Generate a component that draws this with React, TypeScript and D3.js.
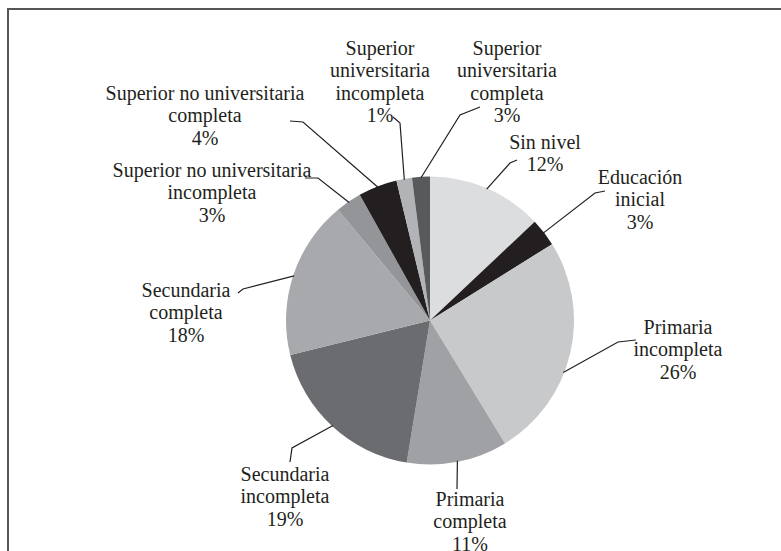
import React from "react";
import * as d3 from "d3";

const categories = [
  "Sin nivel",
  "Educación inicial",
  "Primaria incompleta",
  "Primaria completa",
  "Secundaria incompleta",
  "Secundaria completa",
  "Superior no universitaria incompleta",
  "Superior no universitaria completa",
  "Superior universitaria incompleta",
  "Superior universitaria completa",
];
const shares = [12.97, 3.14, 25.17, 11.31, 18.56, 17.83, 2.92, 4.36, 1.75, 2.0];
const pctLabels = ["12%", "3%", "26%", "11%", "19%", "18%", "3%", "4%", "1%", "3%"];
const colors = [
  "#dcdddf",
  "#231f20",
  "#c8c9cb",
  "#a0a1a4",
  "#6b6c70",
  "#a8a9ac",
  "#939598",
  "#231f20",
  "#b1b3b6",
  "#58595b",
];
const labelLines = [
  ["Sin nivel"],
  ["Educación", "inicial"],
  ["Primaria", "incompleta"],
  ["Primaria", "completa"],
  ["Secundaria", "incompleta"],
  ["Secundaria", "completa"],
  ["Superior no universitaria", "incompleta"],
  ["Superior no universitaria", "completa"],
  ["Superior", "universitaria", "incompleta"],
  ["Superior", "universitaria", "completa"],
];

// layout: label centre x, first-line centre y, leader elbow points, angle offset (deg)
const layout = [
  { x: 545, y: 142, pts: [[510, 163], [517, 160]], off: 0 },
  { x: 640, y: 177, pts: [[595, 193], [605, 191]], off: 0 },
  { x: 678, y: 327, pts: [[618, 342], [636, 340]], off: 8 },
  { x: 470, y: 499, pts: [[457, 489]], off: 0 },
  { x: 285, y: 474, pts: [[292, 448], [290, 462]], off: 0 },
  { x: 186, y: 290, pts: [[243, 289], [238, 293]], off: 0 },
  { x: 212, y: 170, pts: [[318, 178], [305, 178]], off: 0 },
  { x: 205, y: 93, pts: [[303, 122], [290, 121]], off: 0 },
  { x: 380, y: 48, pts: [[400, 123], [393, 117]], off: 0 },
  { x: 507, y: 48, pts: [[460, 115], [480, 107]], off: 0 },
];

const W = 781;
const H = 551;
const cx = 430;
const cy = 320.5;
const R = 144;
const LH = 22.3;

export default function App() {
  const pie = d3.pie<number>().sort(null).value((d) => d)(shares);
  const arc = d3.arc<d3.PieArcDatum<number>>().innerRadius(0).outerRadius(R);
  const line = d3.line();

  return (
    <div style={{ position: "absolute", left: 0, top: 0 }}>
      <svg width={W} height={H} style={{ display: "block" }}>
        <rect x={0} y={0} width={W} height={H} fill="#fff" />
        <rect x={8} y={9} width={900} height={700} fill="none" stroke="#555" strokeWidth={2} />
        <g transform={`translate(${cx},${cy})`}>
          {pie.map((p, i) => (
            <path key={i} d={arc(p) || ""} fill={colors[i]} />
          ))}
        </g>
        {pie.map((p, i) => {
          const L = layout[i];
          const a = (p.startAngle + p.endAngle) / 2 + (L.off * Math.PI) / 180;
          const sx = cx + Math.sin(a) * (R - 1);
          const sy = cy - Math.cos(a) * (R - 1);
          const pts: [number, number][] = [[sx, sy], ...(L.pts as [number, number][])];
          return (
            <path key={"l" + i} d={line(pts) || ""} fill="none" stroke="#231f20" strokeWidth={1.2} />
          );
        })}
        {categories.map((c, i) => {
          const L = layout[i];
          const lines = [...labelLines[i], pctLabels[i]];
          return (
            <text
              key={"t" + i}
              fontFamily="'Liberation Serif', serif"
              fontSize={20}
              fill="#231f20"
              textAnchor="middle"
              dominantBaseline="central"
            >
              {lines.map((s, j) => (
                <tspan key={j} x={L.x} y={L.y + j * LH}>
                  {s}
                </tspan>
              ))}
            </text>
          );
        })}
      </svg>
    </div>
  );
}
